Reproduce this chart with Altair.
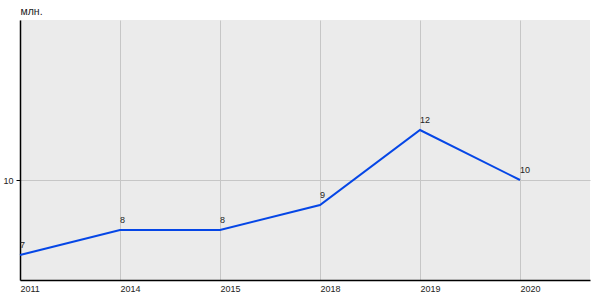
import altair as alt
import pandas as pd

years = ["2011", "2014", "2015", "2018", "2019", "2020"]
values = [7, 8, 8, 9, 12, 10]

df = pd.DataFrame({"idx": list(range(len(years))), "year": years, "value": values})

label_expr = "[" + ",".join(f"'{y}'" for y in years) + "][datum.value]"

x = alt.X("idx:Q", scale=alt.Scale(domain=[0, 5.7], nice=False, zero=False),
          axis=alt.Axis(values=list(range(len(years))), labelExpr=label_expr, title=None,
                        ticks=False, labelAlign="left", labelPadding=4,
                        grid=True, gridColor="#c6c6c6", gridWidth=1,
                        domainColor="#000000", domainWidth=1.5,
                        labelFont="Liberation Sans", labelFontSize=9, labelColor="#222222"))
y = alt.Y("value:Q", scale=alt.Scale(domain=[6, 16.4], nice=False, zero=False),
          axis=alt.Axis(values=[10], title="млн.", titleAngle=0, titleAlign="left",
                        titleBaseline="bottom", titleX=0, titleY=-4,
                        titleFont="Liberation Sans", titleFontSize=10.5, titleFontWeight="normal",
                        titleColor="#222222",
                        tickSize=4, tickColor="#000000", labelPadding=3,
                        grid=True, gridColor="#c6c6c6", gridWidth=1,
                        domainColor="#000000", domainWidth=1.5,
                        labelFont="Liberation Sans", labelFontSize=9, labelColor="#222222"))

line = alt.Chart(df).mark_line(color="#0546e6", strokeWidth=2).encode(x=x, y=y)
labels = alt.Chart(df).mark_text(align="left", baseline="bottom", dy=-5,
                                 font="Liberation Sans", fontSize=9, color="#222222").encode(
    x="idx:Q", y="value:Q", text="value:Q")

chart = (line + labels).properties(
    width=570, height=260,
    autosize=alt.AutoSizeParams(type="none"),
    padding={"left": 20, "top": 20, "right": 10, "bottom": 20},
    background="#ffffff",
).configure_view(fill="#ebebeb", stroke=None)

chart.save("out.html", embed_options={"renderer": "svg", "actions": False})
